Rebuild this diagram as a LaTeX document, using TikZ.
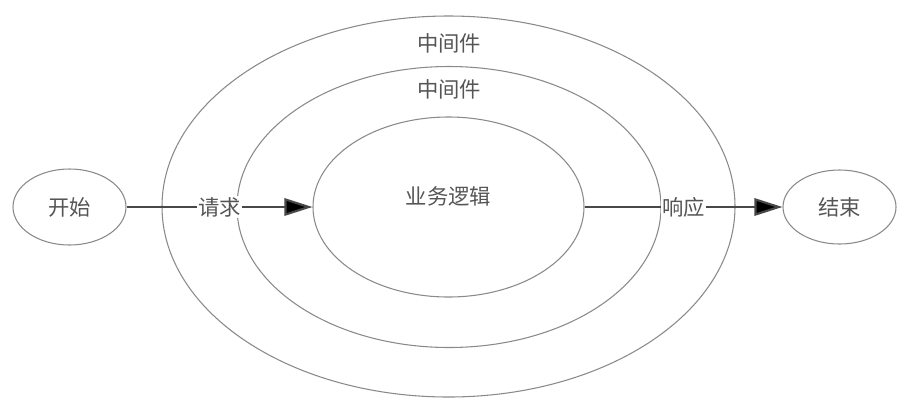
\documentclass[tikz,border=0pt]{standalone}
\usepackage{fontspec}
\setmainfont{Noto Sans CJK SC}
\usetikzlibrary{shapes.geometric,arrows.meta}
\definecolor{ringgray}{HTML}{8A8A8A}
\definecolor{flowgray}{HTML}{484848}
\definecolor{textgray}{HTML}{555555}
\tikzset{
    ring/.style={shape=ellipse,draw=ringgray,line width=0.8pt,inner sep=0pt},
    flow/.style={draw=flowgray,line width=1.6pt,->},
    tag/.style={fill=white,inner sep=1pt}
}
\begin{document}
\begin{tikzpicture}[x=0.75pt,y=-0.75pt,font=\fontsize{16}{19}\selectfont,text=textgray,
    >={Triangle[length=21pt,width=13pt]}]
    \useasboundingbox (0,0) rectangle (913,412);
    \node[ring,minimum width=429.75pt,minimum height=285.75pt] (outer) at (448.5,206.5) {};
    \node[ring,minimum width=318pt,minimum height=210.75pt] (middle) at (449,207) {};
    \node[ring,minimum width=203.25pt,minimum height=135pt] (logic) at (448.5,207) {};
    \node[ring,minimum width=84.75pt,minimum height=57pt] (start) at (69.5,207) {开始};
    \node[ring,minimum width=84.75pt,minimum height=55.5pt] (end) at (839.5,207) {结束};
    \node (outertxt) at (449,43) {中间件};
    \node (middletxt) at (449,89) {中间件};
    \node (logictxt) at (448.5,196) {业务逻辑};
    \path [flow] (start) edge node[tag] {请求} (logic);
    \path [flow] (logic) edge node[tag] {响应} (end);
\end{tikzpicture}
\end{document}
